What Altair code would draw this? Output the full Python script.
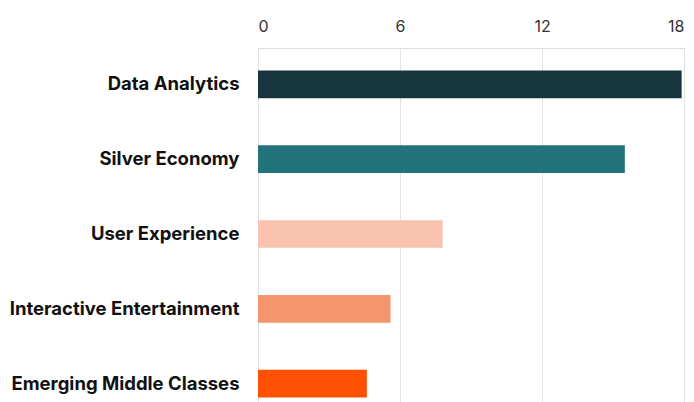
import altair as alt
import pandas as pd

categories = ["Data Analytics", "Silver Economy", "User Experience",
              "Interactive Entertainment", "Emerging Middle Classes"]
values = [17.9, 15.5, 7.8, 5.6, 4.6]
colors = ["#16353f", "#23737a", "#f9c3af", "#f5956e", "#ff5004"]
x_ticks = [0, 6, 12, 18]

df = pd.DataFrame({"category": categories, "value": values})

chart = alt.Chart(df).mark_bar().encode(
    x=alt.X("value:Q",
            scale=alt.Scale(domain=[0, 18], nice=False),
            axis=alt.Axis(orient="top", values=x_ticks, title=None, ticks=False,
                          domain=False, labelPadding=14, labelFontSize=16,
                          labelColor="#333333", labelFont="Inter",
                          gridColor="#e3e3e3", gridWidth=1)),
    y=alt.Y("category:N", sort=categories,
            scale=alt.Scale(paddingInner=0.63, paddingOuter=0.3),
            axis=alt.Axis(title=None, ticks=False, domain=False, grid=False,
                          labelPadding=19, labelFontSize=18.5, labelFontWeight="bold",
                          labelLimit=400,
                          labelColor="#111111", labelFont="Inter")),
    color=alt.Color("category:N", sort=categories,
                    scale=alt.Scale(domain=categories, range=colors), legend=None),
).properties(
    width=426, height=372,
    autosize=alt.AutoSizeParams(type="none"),
    padding={"left": 258, "top": 48, "right": 10, "bottom": 0},
).configure_view(stroke=None).configure(background="white")

chart.save("out.html", embed_options={"renderer": "svg", "actions": False})
